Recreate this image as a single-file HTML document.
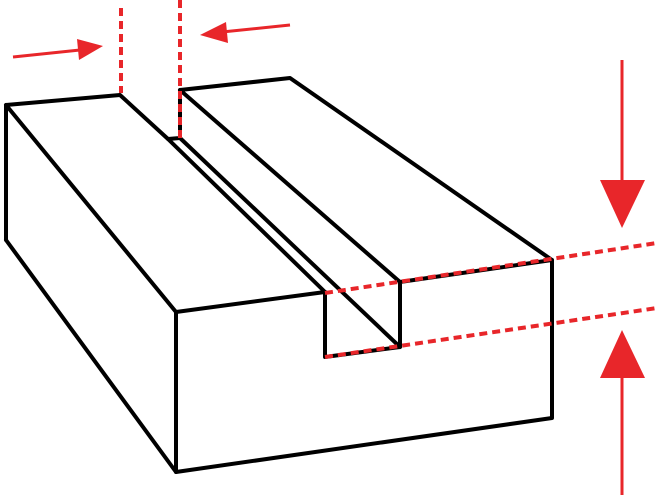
<!DOCTYPE html>
<html><head><style>html,body{margin:0;padding:0;background:#fff}</style></head>
<body>
<svg width="657" height="495" viewBox="0 0 657 495" xmlns="http://www.w3.org/2000/svg">
<g fill="none" stroke="#000" stroke-width="4" stroke-linejoin="round" stroke-linecap="round">
<polyline points="6,240 6,105 120,95 168,139 180,138 180,90 290,78 552,260 552,418 176,472 6,240"/>
<line x1="6" y1="105" x2="176" y2="312"/>
<line x1="176" y1="312" x2="176" y2="472"/>
<line x1="176" y1="312" x2="325" y2="292"/>
<line x1="168" y1="139" x2="325" y2="292"/>
<line x1="180" y1="138" x2="400" y2="347"/>
<line x1="180" y1="90" x2="400" y2="282"/>
<polyline points="325,292 325,357 400,347 400,282 552,260"/>
</g>
<g stroke="#e8262a" stroke-width="4" stroke-dasharray="8,5" fill="none">
<line x1="121" y1="8" x2="121" y2="93"/>
<line x1="180" y1="0" x2="180" y2="138"/>
<line x1="325" y1="293" x2="657" y2="243"/>
<line x1="325" y1="357" x2="657" y2="308"/>
</g>
<g stroke="#e8262a" stroke-width="3" fill="#e8262a">
<line x1="13" y1="57" x2="80" y2="50"/>
<polygon points="103,46 77,39 79,60" stroke="none"/>
<line x1="290" y1="25" x2="222" y2="32"/>
<polygon points="200,35 226,22 228,43" stroke="none"/>
<line x1="622" y1="60" x2="622" y2="185"/>
<polygon points="600,180 645,180 622,228" stroke="none"/>
<line x1="622" y1="495" x2="622" y2="372"/>
<polygon points="600,378 645,378 622,330" stroke="none"/>
</g>
</svg>
</body></html>
